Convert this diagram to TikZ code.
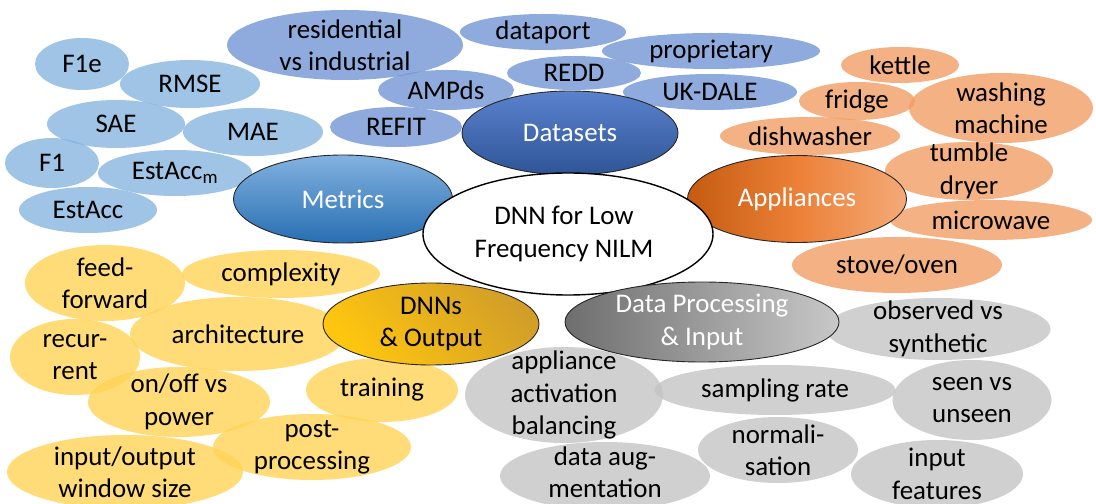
\documentclass[tikz,border=0pt]{standalone}
\usepackage{fontspec}
\setmainfont{Carlito}
\usetikzlibrary{shapes.geometric}
\definecolor{metl}{RGB}{136,181,224}
\definecolor{datl}{RGB}{115,149,211}
\definecolor{appl}{RGB}{241,157,100}
\definecolor{dnnl}{RGB}{255,211,86}
\definecolor{prol}{RGB}{196,196,196}
\tikzset{
  sz/.style 2 args={minimum width=#1bp, minimum height=#2bp},
  bub/.style={ellipse, inner sep=0pt, outer sep=0pt, fill opacity=0.8, draw=none},
  met/.style={bub, fill=metl},
  dat/.style={bub, fill=datl},
  app/.style={bub, fill=appl},
  dnn/.style={bub, fill=dnnl},
  pro/.style={bub, fill=prol},
  cat/.style={ellipse, inner sep=0pt, outer sep=0pt, draw=black!85, line width=0.9bp},
  txt/.style={align=center, font=\fontsize{27}{32.5}\selectfont, inner sep=0pt},
}
\begin{document}
\begin{tikzpicture}[x=1bp, y=-1bp]
\path[use as bounding box] (0,0) rectangle (1096,504);
% Metrics leaves
\node[met, sz={94}{52}] (f1e) at (82,64) {};
\node[met, sz={140}{48}] (rmse) at (190,84) {};
\node[met, sz={138}{48}] (sae) at (116,124) {};
\node[met, sz={140}{48}] (mae) at (253,132) {};
\node[met, sz={94}{50}] (f1) at (52,163) {};
\node[met, sz={154}{46}] (estaccm) at (175,173) {};
\node[met, sz={138}{46}] (estacc) at (88,210) {};
% Datasets leaves
\node[dat, sz={236}{70}] (resid) at (345,45) {};
\node[dat, sz={166}{36}] (dataport) at (543,32) {};
\node[dat, sz={218}{36}] (propr) at (711,51) {};
\node[dat, sz={134}{34}] (redd) at (574,73) {};
\node[dat, sz={174}{36}] (ukdale) at (710,92) {};
\node[dat, sz={136}{40}] (ampds) at (446,90) {};
\node[dat, sz={132}{40}] (refit) at (396,127) {};
% Appliances leaves
\node[app, sz={118}{36}] (kettle) at (900,65) {};
\node[app, sz={116}{38}] (fridge) at (857,101) {};
\node[app, sz={184}{70}] (washing) at (1001,108) {};
\node[app, sz={180}{38}] (dish) at (810,136) {};
\node[app, sz={168}{58}] (tumble) at (969,171) {};
\node[app, sz={202}{40}] (micro) at (991,220) {};
\node[app, sz={210}{56}] (stove) at (897,265) {};
% DNN leaves
\node[dnn, sz={160}{76}] (feed) at (105,283) {};
\node[dnn, sz={198}{48}] (complex) at (281,274) {};
\node[dnn, sz={216}{74}] (arch) at (238,334) {};
\node[dnn, sz={130}{76}] (recur) at (75,357) {};
\node[dnn, sz={182}{70}] (onoff) at (179,402) {};
\node[dnn, sz={152}{64}] (training) at (382,390) {};
\node[dnn, sz={198}{66}] (post) at (312,447) {};
\node[dnn, sz={236}{74}] (inout) at (125,472) {};
% Processing leaves
\node[pro, sz={225}{62}] (obs) at (938,329) {};
\node[pro, sz={198}{96}] (appact) at (564,395) {};
\node[pro, sz={241}{50}] (samp) at (775,390) {};
\node[pro, sz={159}{80}] (seen) at (972,400) {};
\node[pro, sz={210}{68}] (aug) at (605,476) {};
\node[pro, sz={160}{66}] (norm) at (778,450) {};
\node[pro, sz={172}{68}] (feat) at (937,474) {};
% Categories
\node[cat, sz={219}{88}, top color={rgb,255:red,130;green,178;blue,224}, bottom color={rgb,255:red,40;green,110;blue,178}] (metrics) at (343,199) {};
\node[cat, sz={219}{87}, left color={rgb,255:red,197;green,90;blue,17}, right color={rgb,255:red,244;green,170;blue,120}, middle color={rgb,255:red,236;green,128;blue,55}] (appliances) at (797,199) {};
\node[cat, sz={216}{84}, top color={rgb,255:red,90;green,130;blue,205}, bottom color={rgb,255:red,47;green,85;blue,151}] (datasets) at (570,133) {};
\node[cat, sz={290}{122}, fill=white, draw=black, line width=1.4bp] (center) at (568,234) {};
\node[cat, sz={216}{82}, top color={rgb,255:red,210;green,158;blue,40}, bottom color={rgb,255:red,255;green,198;blue,15}, shading angle=-50] (dnns) at (431,324) {};
\node[cat, sz={274}{80}, left color={rgb,255:red,110;green,110;blue,110}, right color={rgb,255:red,200;green,200;blue,200}] (dataproc) at (702,322) {};
% Texts
\node[txt] (t-f1e) at (f1e) {F1e};
\node[txt] (t-rmse) at (rmse) {RMSE};
\node[txt] (t-sae) at (sae) {SAE};
\node[txt] (t-mae) at (mae) {MAE};
\node[txt] (t-f1) at (f1) {F1};
\node[txt] (t-estaccm) at (estaccm) {EstAcc\textsubscript{m}};
\node[txt] (t-estacc) at (estacc) {EstAcc};
\node[txt] (t-resid) at (resid) {residential\\vs industrial};
\node[txt] (t-dataport) at (dataport) {dataport};
\node[txt] (t-propr) at (propr) {proprietary};
\node[txt] (t-redd) at (redd) {REDD};
\node[txt] (t-ukdale) at (ukdale) {UK-DALE};
\node[txt] (t-ampds) at (ampds) {AMPds};
\node[txt] (t-refit) at (refit) {REFIT};
\node[txt] (t-kettle) at (kettle) {kettle};
\node[txt] (t-fridge) at (fridge) {fridge};
\node[txt] (t-washing) at (washing) {washing\\machine};
\node[txt] (t-dish) at (dish) {dishwasher};
\node[txt] (t-tumble) at (tumble) {tumble\\dryer};
\node[txt] (t-micro) at (micro) {microwave};
\node[txt] (t-stove) at (stove) {stove/oven};
\node[txt] (t-feed) at (feed) {feed-\\forward};
\node[txt] (t-complex) at (complex) {complexity};
\node[txt] (t-arch) at (arch) {architecture};
\node[txt] (t-recur) at (recur) {recur-\\rent};
\node[txt] (t-onoff) at (onoff) {on/off vs\\power};
\node[txt] (t-training) at (training) {training};
\node[txt] (t-post) at (post) {post-\\processing};
\node[txt] (t-inout) at (inout) {input/output\\window size};
\node[txt] (t-obs) at (obs) {observed vs\\synthetic};
\node[txt] (t-appact) at (appact) {appliance\\activation\\balancing};
\node[txt] (t-samp) at (samp) {sampling rate};
\node[txt] (t-seen) at (seen) {seen vs\\unseen};
\node[txt] (t-aug) at ([yshift=4bp]aug.center) {data aug-\\mentation};
\node[txt] (t-norm) at (norm) {normali-\\sation};
\node[txt] (t-feat) at (feat) {input\\features};
\node[txt, text=white] (t-metrics) at (metrics) {Metrics};
\node[txt, text=white] (t-appliances) at (appliances) {Appliances};
\node[txt, text=white] (t-datasets) at (datasets) {Datasets};
\node[txt] (t-center) at ([xshift=-4bp]center.center) {DNN for Low\\Frequency NILM};
\node[txt] (t-dnns) at (dnns) {DNNs\\\& Output};
\node[txt, text=white] (t-dataproc) at (dataproc) {Data Processing\\\& Input};
\end{tikzpicture}
\end{document}
